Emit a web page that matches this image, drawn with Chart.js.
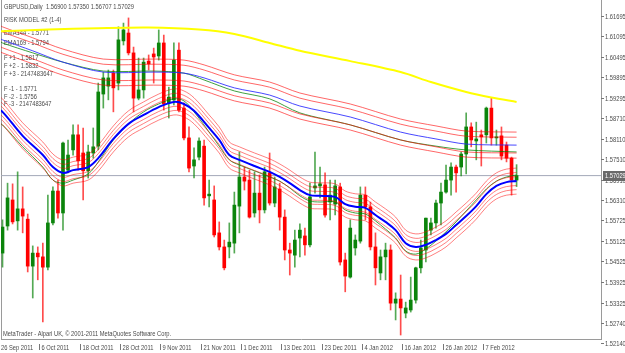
<!DOCTYPE html>
<html>
<head>
<meta charset="utf-8">
<script src="https://cdn.jsdelivr.net/npm/chart.js@4.4.1/dist/chart.umd.min.js"></script>
<style>
  html, body { margin: 0; padding: 0; background: #fff; }
  #wrap { width: 625px; height: 353px; }
</style>
</head>
<body>
<div id="wrap"><canvas id="chart" width="625" height="353"></canvas></div>
<script>
// daily GBPUSD bars, 26 Sep 2011 .. 15 Feb 2012 (bar index = position)
const opens = [1.5477,1.5556,1.5632,1.5571,1.5606,1.5576,1.5439,1.5477,1.5466,1.5436,
  1.5565,1.5658,1.5594,1.5719,1.5778,1.5822,1.5769,1.5717,1.5769,1.5789,
  1.5941,1.5964,1.6002,1.5973,1.6096,1.6119,1.6061,1.5929,1.5953,1.6037,
  1.6058,1.6052,1.6090,1.5915,1.5924,1.6069,1.5900,1.5813,1.5731,1.5757,
  1.5789,1.5644,1.5632,1.5536,1.5495,1.5495,1.5506,1.5614,1.5699,1.5690,
  1.5594,1.5652,1.5603,1.5711,1.5623,1.5664,1.5582,1.5486,1.5471,1.5521,
  1.5527,1.5501,1.5667,1.5673,1.5676,1.5626,1.5620,1.5670,1.5457,1.5407,
  1.5492,1.5512,1.5646,1.5612,1.5495,1.5419,1.5466,1.5486,1.5331,1.5343,
  1.5302,1.5311,1.5340,1.5434,1.5486,1.5544,1.5565,1.5623,1.5655,1.5690,
  1.5728,1.5728,1.5766,1.5845,1.5804,1.5822,1.5822,1.5900,1.5813,1.5819,
  1.5792,1.5754,1.5690];
const highs = [1.5574,1.5681,1.5679,1.5714,1.5670,1.5591,1.5498,1.5495,1.5506,1.5646,
  1.5670,1.5690,1.5801,1.5807,1.5851,1.5851,1.5842,1.5792,1.5842,1.5973,
  1.6005,1.6011,1.6011,1.6137,1.6148,1.6163,1.6078,1.6046,1.6046,1.6055,
  1.6075,1.6128,1.6113,1.5961,1.6090,1.6090,1.5915,1.5845,1.5784,1.5813,
  1.5807,1.5690,1.5673,1.5568,1.5515,1.5565,1.5655,1.5772,1.5728,1.5719,
  1.5714,1.5705,1.5728,1.5769,1.5699,1.5681,1.5603,1.5506,1.5544,1.5562,
  1.5550,1.5681,1.5772,1.5728,1.5711,1.5690,1.5690,1.5681,1.5477,1.5574,
  1.5530,1.5670,1.5670,1.5626,1.5536,1.5486,1.5506,1.5501,1.5361,1.5413,
  1.5334,1.5407,1.5436,1.5515,1.5579,1.5579,1.5632,1.5681,1.5734,1.5740,
  1.5734,1.5772,1.5886,1.5857,1.5859,1.5836,1.5903,1.5929,1.5836,1.5845,
  1.5801,1.5757,1.5735];
const lows = [1.5436,1.5544,1.5562,1.5544,1.5536,1.5422,1.5346,1.5399,1.5276,1.5428,
  1.5559,1.5579,1.5544,1.5711,1.5763,1.5719,1.5632,1.5696,1.5754,1.5778,
  1.5900,1.5924,1.5889,1.5953,1.6084,1.6055,1.5889,1.5924,1.5929,1.6011,
  1.5973,1.6040,1.5894,1.5871,1.5909,1.5889,1.5807,1.5714,1.5696,1.5749,
  1.5617,1.5612,1.5524,1.5486,1.5428,1.5463,1.5477,1.5536,1.5661,1.5579,
  1.5582,1.5565,1.5594,1.5617,1.5612,1.5544,1.5457,1.5413,1.5436,1.5466,
  1.5471,1.5495,1.5652,1.5638,1.5582,1.5574,1.5588,1.5442,1.5364,1.5404,
  1.5471,1.5506,1.5574,1.5486,1.5384,1.5399,1.5399,1.5311,1.5282,1.5238,
  1.5288,1.5305,1.5331,1.5419,1.5451,1.5530,1.5550,1.5559,1.5652,1.5646,
  1.5655,1.5702,1.5708,1.5787,1.5749,1.5731,1.5798,1.5792,1.5792,1.5749,
  1.5743,1.5646,1.5671];
const closes = [1.5553,1.5638,1.5568,1.5606,1.5585,1.5439,1.5477,1.5466,1.5436,1.5565,
  1.5658,1.5594,1.5798,1.5763,1.5822,1.5746,1.5717,1.5772,1.5787,1.5947,
  1.5988,1.5988,1.5959,1.6099,1.6128,1.6061,1.5929,1.5953,1.6034,1.6029,
  1.6049,1.6090,1.5912,1.5932,1.6040,1.5894,1.5813,1.5725,1.5749,1.5804,
  1.5638,1.5649,1.5530,1.5495,1.5434,1.5509,1.5617,1.5699,1.5687,1.5582,
  1.5652,1.5603,1.5714,1.5623,1.5670,1.5582,1.5486,1.5477,1.5515,1.5544,
  1.5501,1.5641,1.5673,1.5679,1.5588,1.5646,1.5673,1.5451,1.5410,1.5550,
  1.5515,1.5646,1.5612,1.5495,1.5434,1.5466,1.5486,1.5331,1.5343,1.5317,
  1.5317,1.5340,1.5434,1.5492,1.5579,1.5565,1.5623,1.5655,1.5690,1.5728,
  1.5711,1.5766,1.5845,1.5807,1.5810,1.5816,1.5900,1.5813,1.5816,1.5760,
  1.5754,1.5690,1.5703];

// fast moving average pair + its bands
const fastIdx = [-1,0,4,8,10,12,14,17,19,22,25,28,31,34,36,38,41,43,45,47,50,53,55,57,59,61,63,66,68,70,72,74,76,78,80,82,84,86,88,90,92,94,96,98,100,102];
const fastBlue = [1.5897,1.5889,1.5819,1.5763,1.5728,1.5711,1.5719,1.5728,1.5754,1.5810,1.5854,1.5880,1.5903,1.5918,1.5912,1.5892,1.5842,1.5807,1.5763,1.5749,1.5731,1.5714,1.5699,1.5681,1.5661,1.5646,1.5644,1.5641,1.5620,1.5612,1.5609,1.5588,1.5568,1.5544,1.5506,1.5495,1.5501,1.5515,1.5533,1.5559,1.5585,1.5614,1.5649,1.5673,1.5684,1.5687];
const fastGreen = [1.5859,1.5851,1.5787,1.5728,1.5690,1.5681,1.5690,1.5708,1.5743,1.5807,1.5854,1.5889,1.5912,1.5927,1.5921,1.5889,1.5830,1.5789,1.5749,1.5734,1.5717,1.5699,1.5687,1.5667,1.5644,1.5629,1.5626,1.5626,1.5603,1.5594,1.5591,1.5571,1.5547,1.5521,1.5483,1.5474,1.5489,1.5512,1.5539,1.5568,1.5600,1.5632,1.5664,1.5687,1.5699,1.5705];
const fastBandOffsets = [0.0038, 0.0025, 0.0013, -0.0013, -0.0025, -0.0038];

// slow EMA169 (blue) / EMA144 (green) + F bands
const slowIdx = [-1,0,6,12,20,30,36,40,46,53,59,69,79,86,92,102];
const slowBlue = [1.6107,1.6099,1.6067,1.6034,1.6005,1.6005,1.6002,1.5988,1.5959,1.5938,1.5906,1.5874,1.5830,1.5810,1.5795,1.5792];
const slowGreen = [1.6099,1.6090,1.6061,1.6034,1.6008,1.6008,1.6002,1.5982,1.5950,1.5927,1.5886,1.5851,1.5807,1.5789,1.5778,1.5772];
const slowBandOffsets = [0.0038, 0.0023, -0.0023, -0.0038];

const yellowIdx = [-1,9,19,29,39,46,53,59,69,79,85,92,97,102];
const yellowLine = [1.6124,1.6129,1.6133,1.6135,1.6129,1.6116,1.6090,1.6067,1.6037,1.6005,1.5976,1.5947,1.5931,1.5918];

const priceTicks = [1.61695,1.61095,1.60495,1.59895,1.59295,1.58710,1.58110,1.57510,1.56910,1.56310,1.55725,1.55125,1.54525,1.53925,1.53325,1.52740,1.52140];
const dateIdx = [0,8,16,24,32,40,48,56,64,72,80,88,96];
const dateLabels = ['26 Sep 2011','6 Oct 2011','18 Oct 2011','28 Oct 2011','9 Nov 2011','21 Nov 2011','1 Dec 2011','13 Dec 2011','23 Dec 2011','4 Jan 2012','16 Jan 2012','26 Jan 2012','7 Feb 2012'];

const legendLines = [
  ['GBPUSD,Daily  1.56900 1.57350 1.56707 1.57029', 7],
  ['RISK MODEL #2 (1-4)', 20],
  ['EMA144 - 1.5771', 33],
  ['EMA169 - 1.5794', 43],
  ['F +1 - 1.5817', 58],
  ['F +2 - 1.5832', 66],
  ['F +3 - 2147483647', 74],
  ['F -1 - 1.5771', 89],
  ['F -2 - 1.5756', 97],
  ['F -3 - 2147483647', 104]
];

const GREEN = '#0b840b';
const RED = '#ff0000';
const SX = 0.72; // glyphs in the screenshot are squeezed horizontally
const lastClose = closes[closes.length - 1];

function pts(idx, vals, off) {
  return idx.map((x, k) => ({ x: x, y: vals[k] + (off || 0) }));
}

function sqText(ctx, s, x, y, color) {
  ctx.save();
  ctx.translate(x, y);
  ctx.scale(SX, 1);
  ctx.fillStyle = color;
  ctx.fillText(s, 0, 0);
  ctx.restore();
}

const isUp = c => closes[c.dataIndex] >= opens[c.dataIndex];

const datasets = [];
datasets.push({ type: 'line', data: pts(fastIdx, fastBlue), borderColor: '#0000ff', borderWidth: 2, pointRadius: 0, tension: 0.35, order: 0 });
datasets.push({ type: 'line', data: pts(fastIdx, fastGreen), borderColor: 'rgba(0,128,0,0.75)', borderWidth: 1, pointRadius: 0, tension: 0.35, order: 2 });
fastBandOffsets.forEach(off => {
  datasets.push({ type: 'line', data: pts(fastIdx, fastBlue, off), borderColor: 'rgba(255,0,0,0.5)', borderWidth: 1, pointRadius: 0, tension: 0.35, order: 1 });
});
datasets.push({ type: 'line', data: pts(slowIdx, slowBlue), borderColor: 'rgba(40,40,255,0.85)', borderWidth: 1, pointRadius: 0, tension: 0.3, order: 3 });
datasets.push({ type: 'line', data: pts(slowIdx, slowGreen), borderColor: 'rgba(0,128,0,0.75)', borderWidth: 1, pointRadius: 0, tension: 0.3, order: 4 });
slowBandOffsets.forEach(off => {
  datasets.push({ type: 'line', data: pts(slowIdx, slowBlue, off), borderColor: 'rgba(255,0,0,0.6)', borderWidth: 1, pointRadius: 0, tension: 0.3, order: 3 });
});
datasets.push({ type: 'line', data: pts(yellowIdx, yellowLine), borderColor: '#ffff00', borderWidth: 2, pointRadius: 0, tension: 0.3, order: 0 });
// wicks
datasets.push({
  type: 'bar', data: opens.map((o, i) => ({ x: i, y: [lows[i], highs[i]] })),
  backgroundColor: c => isUp(c) ? 'rgba(11,132,11,0.7)' : 'rgba(255,0,0,0.7)',
  barThickness: 1, grouped: false, order: 11
});
// bodies
datasets.push({
  type: 'bar', data: opens.map((o, i) => ({ x: i, y: [opens[i], closes[i]] })),
  backgroundColor: c => isUp(c) ? GREEN : RED,
  barThickness: 3, minBarLength: 1, grouped: false, order: 10
});
// bid line
datasets.push({ type: 'line', data: [{ x: -1, y: lastClose }, { x: 120, y: lastClose }], borderColor: '#a3a8b8', borderWidth: 1, pointRadius: 0, order: 20 });

const textPlugin = {
  id: 'mtText',
  beforeDatasetsDraw(chart) {
    const ctx = chart.ctx;
    ctx.save();
    ctx.font = '8px "Liberation Sans", Arial, sans-serif';
    ctx.textBaseline = 'middle';
    legendLines.forEach(l => sqText(ctx, l[0], 4, l[1], '#4a4a4a'));
    sqText(ctx, 'MetaTrader - Alpari UK, \u00a9 2001-2011 MetaQuotes Software Corp.', 3, 334, '#4a4a4a');
    // left frame
    ctx.strokeStyle = '#9a9a9a';
    ctx.beginPath();
    ctx.moveTo(1.5, 0);
    ctx.lineTo(1.5, chart.chartArea.bottom);
    ctx.stroke();
    ctx.restore();
  },
  afterDraw(chart) {
    const ctx = chart.ctx, ys = chart.scales.y, xs = chart.scales.x, a = chart.chartArea;
    ctx.save();
    ctx.font = '8px "Liberation Sans", Arial, sans-serif';
    ctx.textBaseline = 'middle';
    ctx.strokeStyle = '#777';
    ctx.lineWidth = 1;
    priceTicks.forEach(v => {
      const y = Math.round(ys.getPixelForValue(v)) + 0.5;
      ctx.beginPath();
      ctx.moveTo(a.right, y);
      ctx.lineTo(a.right + 3, y);
      ctx.stroke();
      sqText(ctx, v.toFixed(5), a.right + 4, y, '#4a4a4a');
    });
    // current price box
    const yc = ys.getPixelForValue(lastClose);
    ctx.fillStyle = '#6a6a6a';
    ctx.fillRect(a.right + 2, Math.round(yc) - 5, 24, 10);
    sqText(ctx, '1.57029', a.right + 4, yc, '#ffffff');
    // date labels
    dateIdx.forEach((d, k) => {
      const x = Math.round(xs.getPixelForValue(d) - 3.5) + 0.5;
      if (k > 0) {
        ctx.beginPath();
        ctx.moveTo(x, a.bottom + 5);
        ctx.lineTo(x, a.bottom + 11);
        ctx.stroke();
      }
      sqText(ctx, dateLabels[k], k === 0 ? 1 : x + 2, a.bottom + 8.5, '#4a4a4a');
    });
    ctx.restore();
  }
};

Chart.defaults.font.family = '"Liberation Sans", Arial, sans-serif';

new Chart(document.getElementById('chart'), {
  type: 'bar',
  data: { datasets: datasets },
  options: {
    responsive: false,
    animation: false,
    events: [],
    layout: { padding: { left: 1, right: 0, top: 0, bottom: 0 } },
    plugins: { legend: { display: false }, tooltip: { enabled: false } },
    scales: {
      x: {
        type: 'linear', min: -0.3, max: 118.75, offset: false,
        grid: { display: false },
        border: { display: true, color: '#9a9a9a' },
        ticks: { display: false },
        afterFit: s => { s.height = 14; }
      },
      y: {
        type: 'linear', position: 'right', min: 1.52264, max: 1.62153,
        grid: { display: false },
        border: { display: true, color: '#9a9a9a' },
        ticks: { display: false },
        afterFit: s => { s.width = 24; }
      }
    }
  },
  plugins: [textPlugin]
});
</script>
</body>
</html>
